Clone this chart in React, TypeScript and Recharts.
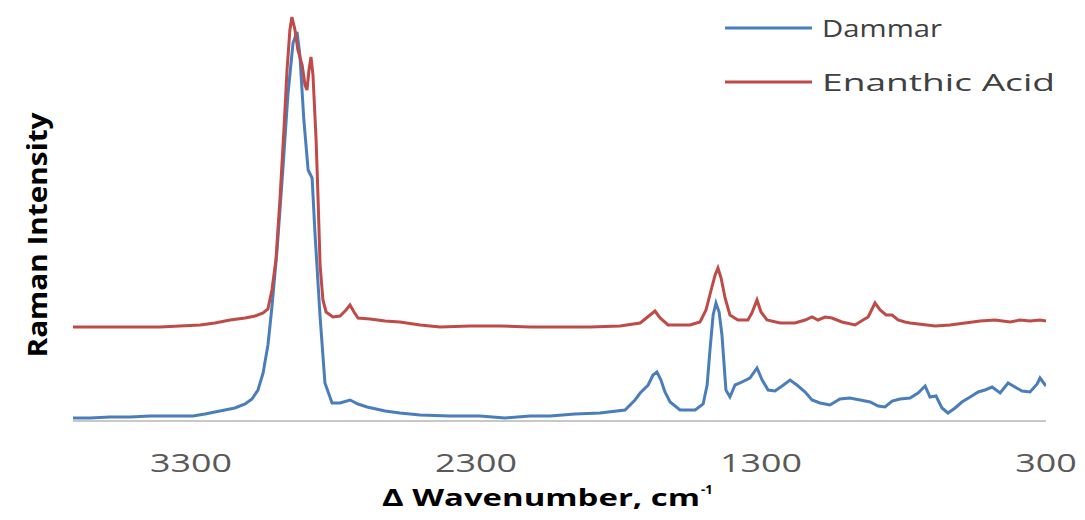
import { LineChart, Line, XAxis, YAxis } from 'recharts';

// Raman shift (cm-1) and intensity for each sample
const dammar: [number, number][] = [
  [3714, 0.75], [3654, 0.75], [3584, 1], [3514, 1], [3444, 1.25], [3356, 1.25],
  [3293, 1.25], [3251, 1.75], [3216, 2.25], [3181, 2.75], [3146, 3.25], [3110, 4.25],
  [3086, 5.5], [3065, 7.75], [3047, 12], [3030, 19], [3016, 28.5], [2998, 42.75],
  [2977, 63.5], [2960, 81.5], [2942, 94.5], [2928, 97.25], [2918, 91.5], [2904, 75.25],
  [2889, 62.75], [2875, 60.75], [2865, 47], [2847, 26], [2830, 9.5], [2805, 4.5],
  [2777, 4.5], [2742, 5.25], [2714, 4.25], [2682, 3.5], [2619, 2.5], [2567, 2],
  [2496, 1.5], [2391, 1.25], [2286, 1.25], [2198, 0.75], [2110, 1.25], [2040, 1.25],
  [1953, 1.75], [1865, 2], [1777, 2.75], [1742, 5.25], [1724, 7], [1696, 9],
  [1679, 11.5], [1665, 12.25], [1651, 10.25], [1637, 7.25], [1619, 4.75], [1584, 2.75],
  [1531, 2.75], [1503, 4.25], [1489, 9], [1479, 17.75], [1468, 26.5], [1458, 29.5],
  [1447, 27.25], [1437, 21.5], [1423, 7.75], [1409, 6], [1391, 9], [1374, 9.5],
  [1339, 10.75], [1314, 13.25], [1296, 10.25], [1275, 7.75], [1251, 7.5], [1226, 8.75],
  [1198, 10.25], [1174, 9], [1145, 7.25], [1121, 5.25], [1093, 4.5], [1058, 4],
  [1023, 5.5], [988, 5.75], [952, 5.25], [917, 4.75], [889, 3.75], [865, 3.5],
  [840, 5], [812, 5.5], [777, 5.75], [749, 7], [724, 8.75], [707, 6],
  [686, 6.25], [665, 3.25], [644, 2], [619, 3.25], [595, 4.75], [566, 6],
  [538, 7.25], [514, 7.75], [489, 8.5], [461, 7], [433, 9.5], [409, 8.5],
  [384, 7.5], [356, 7.25], [331, 9.25], [321, 10.75], [300, 8.75],
];

const enanthicAcid: [number, number][] = [
  [3714, 23.5], [3619, 23.5], [3514, 23.5], [3409, 23.5], [3339, 23.75], [3268, 24],
  [3216, 24.5], [3163, 25.25], [3110, 25.75], [3075, 26.25], [3047, 27], [3030, 28],
  [3016, 32.75], [3002, 40.25], [2988, 55.25], [2974, 72.75], [2963, 87.75], [2953, 97.75],
  [2946, 101], [2935, 97.75], [2925, 92.75], [2910, 89], [2900, 84], [2893, 82.75],
  [2886, 87.75], [2879, 91], [2872, 86.5], [2861, 70.25], [2854, 55.25], [2847, 39],
  [2837, 30.25], [2826, 27.25], [2802, 26], [2777, 26.25], [2756, 27.75], [2742, 29],
  [2728, 27.25], [2714, 25.75], [2672, 25.5], [2619, 25], [2567, 24.75], [2496, 24],
  [2426, 23.5], [2321, 23.75], [2216, 23.75], [2110, 23.5], [2005, 23.5], [1900, 23.5],
  [1795, 23.75], [1724, 24.5], [1689, 26.5], [1672, 27.5], [1654, 25.75], [1626, 24],
  [1549, 24], [1514, 24.75], [1493, 27.75], [1475, 32.75], [1461, 36.5], [1451, 38.25],
  [1440, 35.75], [1426, 30.75], [1409, 26.5], [1381, 25.25], [1346, 25.25], [1332, 27],
  [1314, 30.25], [1300, 27.25], [1279, 25.25], [1233, 24.5], [1181, 24.5], [1145, 25.25],
  [1121, 26], [1100, 25.25], [1075, 26], [1051, 25.75], [1016, 24.75], [970, 24],
  [942, 25.25], [924, 26], [900, 29.5], [882, 27.75], [861, 26.5], [840, 26.5],
  [819, 25.25], [795, 24.75], [777, 24.5], [689, 23.75], [637, 24], [584, 24.5],
  [531, 25], [479, 25.25], [426, 24.75], [391, 25.25], [356, 25], [321, 25.25], [300, 25],
];

const wnTicks = [3300, 2300, 1300, 300];

const seriesNames = ['Dammar', 'Enanthic Acid'];
const seriesColors = ['#4a7ebb', '#be4b48'];

const FONT = '"Open Sans", sans-serif';
const TEXT = '#404040';

const toRows = (pts: [number, number][]) => pts.map(([wn, v]) => ({ wn, v }));

function WnTick({ x, y, payload }: any) {
  const label = String(payload.value);
  return (
    <text
      x={x}
      y={y + 51}
      textAnchor="middle"
      fontFamily={FONT}
      fontSize={25}
      fill="#595959"
      textLength={label.length * 20.5}
      lengthAdjust="spacingAndGlyphs"
    >
      {label}
    </text>
  );
}

// legend sits over the top-right corner of the plot without taking layout space
function SpectraLegend() {
  return (
    <svg width={365} height={100} style={{ position: 'absolute', left: 720, top: 5 }}>
      {seriesNames.map((name, i) => (
        <g key={name}>
          <line x1={5} x2={92} y1={23 + i * 54} y2={23 + i * 54} stroke={seriesColors[i]} strokeWidth={3} />
          <text
            x={102}
            y={32 + i * 54}
            fontFamily={FONT}
            fontSize={24}
            fill={TEXT}
            textLength={i === 0 ? 120 : 233}
            lengthAdjust="spacingAndGlyphs"
          >
            {name}
          </text>
        </g>
      ))}
    </svg>
  );
}

export default function App() {
  return (
    <div style={{ position: 'absolute', left: 0, top: 0, width: 1085, height: 520, background: '#fff' }}>
      <LineChart width={1085} height={520} margin={{ top: 5, right: 39, bottom: 39, left: 73 }}>
        <XAxis
          type="number"
          dataKey="wn"
          domain={[300, 3714]}
          reversed
          allowDataOverflow
          ticks={wnTicks}
          tick={<WnTick />}
          tickLine={false}
          tickSize={0}
          tickMargin={0}
          height={60}
          axisLine={{ stroke: '#c8c8c8', strokeWidth: 2 }}
        />
        <YAxis type="number" domain={[0, 104]} hide />
        <Line
          data={toRows(dammar)}
          dataKey="v"
          name={seriesNames[0]}
          stroke={seriesColors[0]}
          strokeWidth={3}
          dot={false}
          type="linear"
          isAnimationActive={false}
        />
        <Line
          data={toRows(enanthicAcid)}
          dataKey="v"
          name={seriesNames[1]}
          stroke={seriesColors[1]}
          strokeWidth={3}
          dot={false}
          type="linear"
          isAnimationActive={false}
        />
        <text
          x={541}
          y={506}
          textAnchor="middle"
          fontFamily={FONT}
          fontWeight="bold"
          fontSize={23}
          fill="#000"
          textLength={318}
          lengthAdjust="spacingAndGlyphs"
        >
          Δ Wavenumber, cm
        </text>
        <text x={701} y={494} fontFamily={FONT} fontWeight="bold" fontSize={13} fill="#000">
          -1
        </text>
        <text
          transform="translate(47, 235) rotate(-90)"
          textAnchor="middle"
          fontFamily={FONT}
          fontWeight="bold"
          fontSize={26}
          fill="#000"
          textLength={245}
          lengthAdjust="spacingAndGlyphs"
        >
          Raman Intensity
        </text>
      </LineChart>
      <SpectraLegend />
    </div>
  );
}
